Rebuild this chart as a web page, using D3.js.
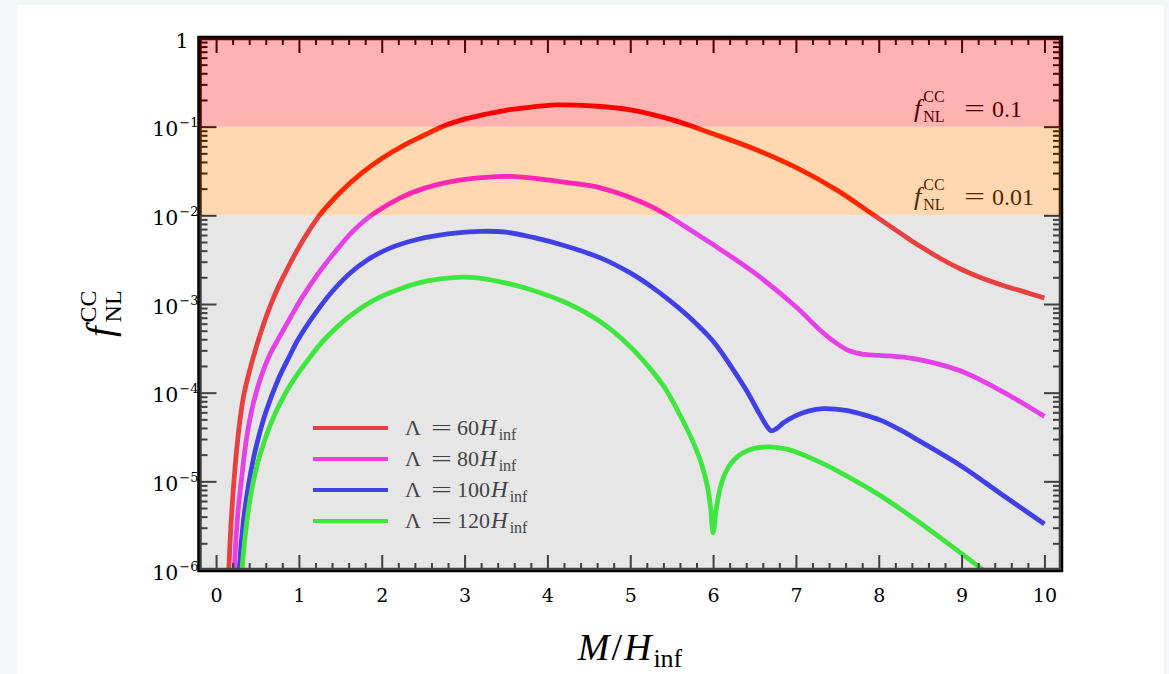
<!DOCTYPE html>
<html><head><meta charset="utf-8">
<script src="https://cdn.jsdelivr.net/npm/d3@7"></script>
<style>
html,body{margin:0;padding:0;background:#f5f6f8;}
svg{display:block;}
</style></head><body>
<svg id="chart" width="1169" height="674" font-family="Liberation Serif, Times New Roman, serif"></svg>
<script>
// ---------------- data ----------------
const seriesNames = ["60", "80", "100", "120"];           // Λ = n H_inf
const seriesColors = ["#ff0000", "#ff00ff", "#0000ff", "#00ff00"];
// [M/H_inf, f_NL^CC]
const lambda60 = [[0.13,1e-7],[0.15,7.9e-7],[0.18,3.2e-6],[0.22,1.12e-5],[0.27,3.5e-5],[0.33,8.9e-5],[0.40,1.7e-4],[0.48,3.16e-4],[0.55,5.1e-4],[0.65,9.3e-4],[0.75,1.55e-3],[0.83,2.19e-3],[1.0,4.37e-3],[1.25,1.0e-2],[1.5,1.82e-2],[1.75,2.95e-2],[2.0,4.37e-2],[2.25,6.03e-2],[2.5,7.9e-2],[2.75,0.102],[3.0,0.1216],[3.25,0.138],[3.5,0.153],[3.75,0.164],[4.1,0.176],[4.6,0.170],[5.0,0.155],[5.5,0.120],[6.0,0.083],[6.5,0.056],[7.0,0.0347],[7.5,0.0191],[7.93,0.0102],[8.26,6.3e-3],[8.5,4.47e-3],[8.75,3.24e-3],[9.0,2.45e-3],[9.25,1.95e-3],[9.5,1.62e-3],[9.75,1.38e-3],[10.0,1.17e-3]];
const lambda80 = [[0.19,1e-7],[0.22,1e-6],[0.26,4.0e-6],[0.31,1.12e-5],[0.37,3.16e-5],[0.45,7.6e-5],[0.55,1.58e-4],[0.65,2.69e-4],[0.76,4.17e-4],[0.9,7.1e-4],[1.03,1.15e-3],[1.2,2.0e-3],[1.43,3.8e-3],[1.63,6.3e-3],[1.83,9.3e-3],[2.23,1.58e-2],[2.5,2.0e-2],[2.84,2.4e-2],[3.2,2.66e-2],[3.56,2.75e-2],[4.24,2.34e-2],[4.64,2.04e-2],[5.25,1.26e-2],[5.85,5.75e-3],[6.0,4.68e-3],[6.5,2.24e-3],[7.0,9.3e-4],[7.3,5.0e-4],[7.5,3.55e-4],[7.65,2.95e-4],[7.8,2.72e-4],[8.0,2.63e-4],[8.3,2.51e-4],[8.6,2.24e-4],[9.0,1.74e-4],[9.5,1.02e-4],[10.0,5.4e-5]];
const lambda100 = [[0.25,1e-7],[0.28,1e-6],[0.33,3.55e-6],[0.39,8.9e-6],[0.45,1.78e-5],[0.50,2.82e-5],[0.60,6.0e-5],[0.75,1.41e-4],[0.88,2.51e-4],[0.99,3.98e-4],[1.2,7.9e-4],[1.41,1.41e-3],[1.62,2.24e-3],[1.83,3.16e-3],[2.1,4.27e-3],[2.44,5.37e-3],[2.8,6.17e-3],[3.2,6.6e-3],[3.5,6.45e-3],[3.84,5.6e-3],[4.2,4.57e-3],[4.64,3.31e-3],[5.0,2.24e-3],[5.25,1.58e-3],[5.5,1.05e-3],[5.75,6.6e-4],[6.0,3.8e-4],[6.2,2.09e-4],[6.4,1.07e-4],[6.55,6.0e-5],[6.65,4.17e-5],[6.7,3.72e-5],[6.76,3.9e-5],[6.85,4.57e-5],[7.0,5.5e-5],[7.15,6.2e-5],[7.33,6.6e-5],[7.6,6.3e-5],[7.8,5.7e-5],[8.02,4.9e-5],[8.26,3.8e-5],[8.5,2.82e-5],[9.0,1.48e-5],[9.46,7.4e-6],[10.0,3.3e-6]];
const lambda120 = [[0.28,1e-7],[0.31,8.9e-7],[0.36,2.82e-6],[0.42,7.1e-6],[0.5,1.58e-5],[0.6,3.16e-5],[0.72,6.0e-5],[0.86,1.07e-4],[1.0,1.7e-4],[1.15,2.63e-4],[1.30,3.9e-4],[1.62,7.4e-4],[1.9,1.1e-3],[2.22,1.48e-3],[2.55,1.82e-3],[2.91,2.0e-3],[3.2,1.95e-3],[3.43,1.78e-3],[3.8,1.45e-3],[4.24,1.02e-3],[4.64,6.3e-4],[5.0,3.3e-4],[5.25,1.82e-4],[5.42,1.12e-4],[5.6,5.6e-5],[5.76,2.75e-5],[5.86,1.58e-5],[5.93,8.9e-6],[5.97,5.0e-6],[6.0,2.63e-6],[6.04,5.0e-6],[6.09,8.7e-6],[6.15,1.26e-5],[6.24,1.7e-5],[6.4,2.19e-5],[6.65,2.45e-5],[6.9,2.29e-5],[7.21,1.78e-5],[7.6,1.17e-5],[8.02,6.9e-6],[8.5,3.39e-6],[8.98,1.58e-6],[9.22,1.07e-6],[9.5,6.8e-7]];
const seriesValues = [lambda60, lambda80, lambda100, lambda120];
const xTickValues = [0,1,2,3,4,5,6,7,8,9,10];
const yTickExponents = [-6,-5,-4,-3,-2,-1,0];
const bandEdges = [1, 0.1, 0.01, 1e-6];
const bandLabels = ["0.1", "0.01"];

// ---------------- layout ----------------
const svg = d3.select("#chart");
svg.append("rect").attr("x",17).attr("y",5).attr("width",1146).attr("height",669).attr("fill","#ffffff");

const P = {l:199.5, r:1061, t:38, b:570};
const x = d3.scaleLinear().domain([-0.2,10.2]).range([P.l,P.r]);
const y = d3.scaleLog().domain([1e-6,1]).range([P.b,P.t]);

svg.append("defs").append("clipPath").attr("id","clip")
  .append("rect").attr("x",P.l).attr("y",P.t).attr("width",P.r-P.l).attr("height",P.b-P.t);

// curves
const line = d3.line().x(d=>x(d[0])).y(d=>y(d[1])).curve(d3.curveCatmullRom.alpha(0.5));
const gCurves = svg.append("g").attr("clip-path","url(#clip)");
seriesValues.forEach((s,i)=>{
  gCurves.append("path").attr("d",line(s)).attr("fill","none")
    .attr("stroke",seriesColors[i]).attr("stroke-width",4.8)
    .attr("stroke-linejoin","round").attr("stroke-linecap","butt");
});

// legend
const legX0 = 313, legX1 = 388, legTextX = 405, legY0 = 428, legDY = 31;
seriesNames.forEach((n,i)=>{
  const yy = legY0 + i*legDY;
  svg.append("line").attr("x1",legX0).attr("x2",legX1).attr("y1",yy).attr("y2",yy)
    .attr("stroke",seriesColors[i]).attr("stroke-width",4);
  const t = svg.append("text").attr("x",legTextX).attr("y",yy+7).attr("font-size",22).attr("fill","#000");
  t.append("tspan").text("Λ");
  t.append("tspan").attr("x",legTextX+26).attr("textLength",21).attr("lengthAdjust","spacingAndGlyphs").text("=");
  t.append("tspan").attr("x",legTextX+52).text(n);
  t.append("tspan").attr("font-style","italic").attr("font-size",23).attr("dx",1).text("H");
  t.append("tspan").attr("font-size",16).attr("dy",5).attr("dx",2).text("inf");
});

// helper: f^{CC}_{NL}
function fStack(g, x0, y0, fSize, sSize, supDy, subDy, gap){
  const f = g.append("text").attr("x",x0).attr("y",y0).attr("font-size",fSize)
    .attr("font-style","italic").text("f");
  const w = f.node().getComputedTextLength();
  const xs = x0 + w + gap;
  g.append("text").attr("x",xs).attr("y",y0+supDy).attr("font-size",sSize).text("CC");
  g.append("text").attr("x",xs).attr("y",y0+subDy).attr("font-size",sSize).text("NL");
}

// band annotations
const annX = 914;
bandLabels.forEach((lab,i)=>{
  const by = y(bandEdges[i+1]) - 10;
  const g = svg.append("g").attr("fill","#000");
  fStack(g, annX, by, 26, 16, -15, 5, 2);
  g.append("text").attr("x",964).attr("y",by-1).attr("font-size",24)
    .attr("textLength",21).attr("lengthAdjust","spacingAndGlyphs").text("=");
  g.append("text").attr("x",992).attr("y",by).attr("font-size",24).text(lab);
});

// ticks (inward, all four sides)
const xMinor = d3.range(1,51).map(v=>+(v*0.2).toFixed(1)).filter(v=>Math.abs(v-Math.round(v))>1e-6);
const yMinor = [];
for(let e=-6;e<0;e++) for(let k=2;k<=9;k++) yMinor.push(k*Math.pow(10,e));
const yMajor = yTickExponents.map(e=>Math.pow(10,e));

function tickAxis(axisFn, scale, vals, size, transform){
  const g = svg.append("g").attr("transform",transform)
    .call(axisFn(scale).tickValues(vals).tickSize(size).tickFormat(""));
  g.select(".domain").remove();
  g.selectAll(".tick line").attr("stroke","#000").attr("stroke-width",2);
}
tickAxis(d3.axisBottom, x, xTickValues, -15, `translate(0,${P.b})`);
tickAxis(d3.axisBottom, x, xMinor, -7, `translate(0,${P.b})`);
tickAxis(d3.axisTop, x, xTickValues, -15, `translate(0,${P.t})`);
tickAxis(d3.axisTop, x, xMinor, -7, `translate(0,${P.t})`);
tickAxis(d3.axisLeft, y, yMajor, -17, `translate(${P.l},0)`);
tickAxis(d3.axisLeft, y, yMinor, -8, `translate(${P.l},0)`);
tickAxis(d3.axisRight, y, yMajor, -17, `translate(${P.r},0)`);
tickAxis(d3.axisRight, y, yMinor, -8, `translate(${P.r},0)`);

// frame
svg.append("rect").attr("x",P.l).attr("y",P.t).attr("width",P.r-P.l).attr("height",P.b-P.t)
  .attr("fill","none").attr("stroke","#000").attr("stroke-width",4.5);

// translucent bands drawn over everything inside the frame
const bandFills = ["rgba(255,0,0,0.3)","rgba(255,127,0,0.3)","rgba(183,183,183,0.35)"];
for(let i=0;i<3;i++){
  svg.append("rect").attr("x",P.l).attr("width",P.r-P.l)
    .attr("y",y(bandEdges[i])).attr("height",y(bandEdges[i+1])-y(bandEdges[i]))
    .attr("fill",bandFills[i]);
}

// x tick labels
const gx = svg.append("g").attr("transform",`translate(0,${P.b})`)
  .call(d3.axisBottom(x).tickValues(xTickValues).tickSize(0).tickFormat(d3.format("d")));
gx.select(".domain").remove();
gx.selectAll("text").attr("y",32).attr("dy",0).attr("font-size",19)
  .attr("font-family","DejaVu Serif").attr("fill","#000");

// y tick labels
const gy = svg.append("g").attr("transform",`translate(${P.l},0)`)
  .call(d3.axisLeft(y).tickValues(yMajor).tickSize(0).tickFormat(""));
gy.select(".domain").remove();
gy.selectAll(".tick").each(function(d){
  const t = d3.select(this).append("text").attr("fill","#000").attr("font-size",20.5)
    .attr("font-family","DejaVu Serif").attr("text-anchor","end").attr("y",9);
  const e = Math.round(Math.log10(d));
  if(e===0){ t.attr("x",-11).text("1"); }
  else {
    t.attr("x",-1);
    t.append("tspan").text("10");
    t.append("tspan").attr("font-size",13).attr("dx",1).attr("dy",-9).text("\u2212"+Math.abs(e));
  }
});

// axis titles
const xt = svg.append("text").attr("x",630).attr("y",660).attr("font-size",38)
  .attr("text-anchor","middle").attr("fill","#000");
xt.append("tspan").attr("font-style","italic").text("M");
xt.append("tspan").attr("dx",2).text("/");
xt.append("tspan").attr("font-style","italic").attr("dx",2).text("H");
xt.append("tspan").attr("font-size",26).attr("dy",7).attr("dx",2).text("inf");

const yl = svg.append("g").attr("transform","translate(113,337) rotate(-90)").attr("fill","#000");
fStack(yl, 0, 0, 38, 24, -17, 8, 4);
</script>
</body></html>
